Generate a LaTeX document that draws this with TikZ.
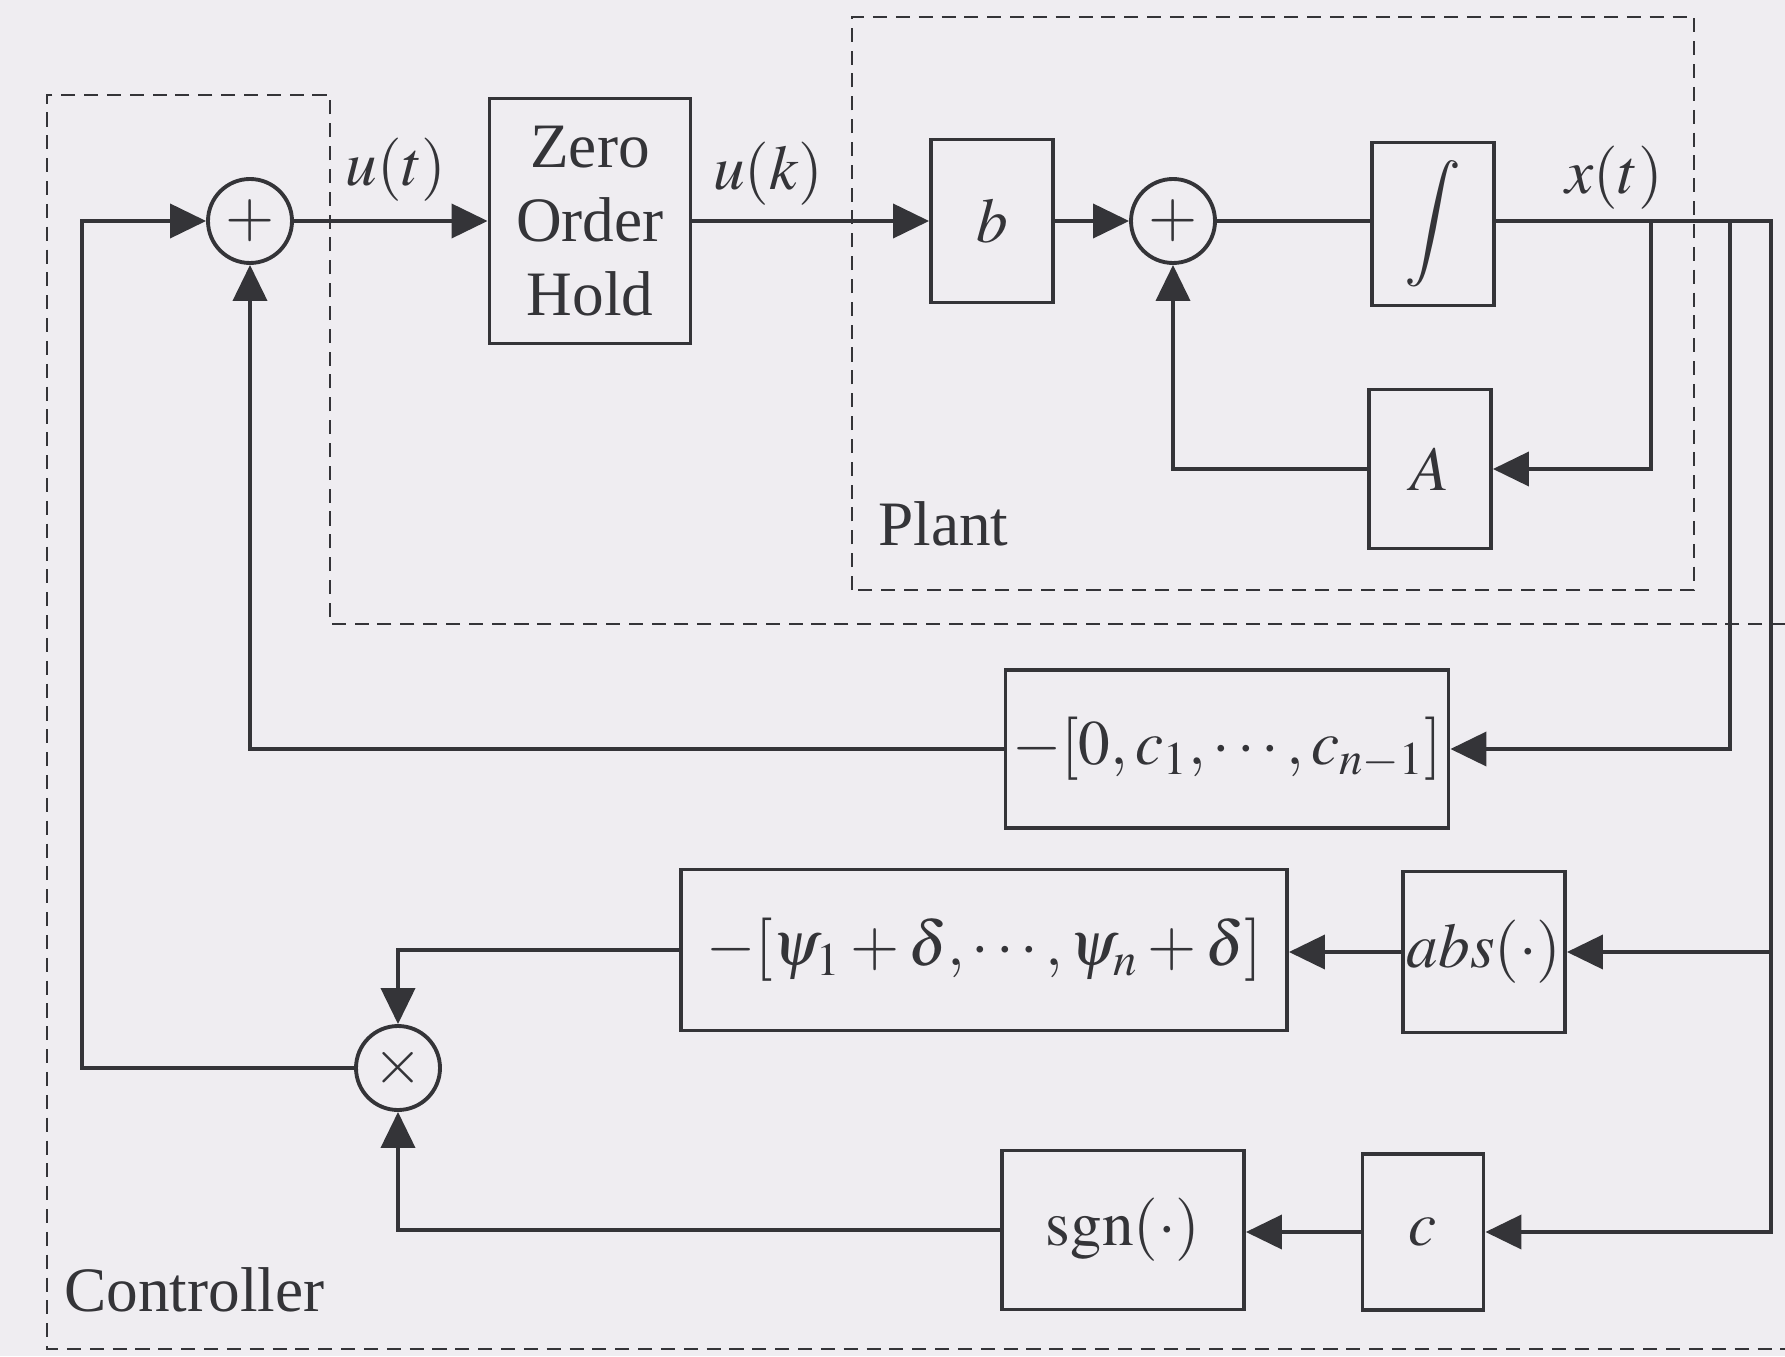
\documentclass[tikz,border=0pt]{standalone}
\usepackage{mathptmx}
\usepackage{fontspec}
\setmainfont{Liberation Serif}
\usetikzlibrary{arrows.meta}
\definecolor{paper}{RGB}{239,237,241}
\definecolor{ink}{RGB}{52,52,56}

\begin{document}
\begin{tikzpicture}[
    every node/.style={font=\fontsize{18}{21}\selectfont, text=ink},
    blk/.style={
      draw=ink, line width=1.1pt, inner sep=0pt, align=center
    },
    sumnode/.style={
      circle, draw=ink, line width=1.1pt, minimum size=0.84cm, inner sep=0pt
    },
    wire/.style={line width=1.1pt, ink},
    arr/.style={-{Triangle[length=3.6mm, width=3.4mm]}, line width=1.1pt, ink},
    frame/.style={draw=ink, line width=0.8pt, dash pattern=on 4pt off 2.5pt},
  ]
    \fill[paper] (0,0) rectangle (17.85,13.56);
    \useasboundingbox (0,0) rectangle (17.85,13.56);

    % dashed outlines
    \draw[frame] (8.52,7.66) rectangle (16.94,13.39);
    \draw[frame] (17.85,7.32) -- (3.30,7.32) -- (3.30,12.61) -- (0.47,12.61)
      -- (0.47,0.07) -- (17.85,0.07);
    \node[anchor=west] (plantlab) at (8.66,8.32) {Plant};
    \node[anchor=west] (ctrllab) at (0.52,0.66) {Controller};

    % top row
    \node[sumnode] (sumu) at (2.50,11.35) {$+$};
    \node[blk, minimum width=2.01cm, minimum height=2.45cm] (zoh) at (5.90,11.35)
      {Zero\\Order\\Hold};
    \node[blk, minimum width=1.22cm, minimum height=1.63cm] (gainb) at (9.92,11.35) {$b$};
    \node[sumnode] (sumx) at (11.73,11.35) {$+$};
    \node[blk, minimum width=1.22cm, minimum height=1.63cm] (integ) at (14.33,11.32)
      {$\displaystyle\int$};
    \node[blk, minimum width=1.22cm, minimum height=1.59cm] (gainA) at (14.30,8.87) {$A$};

    % controller blocks
    \node[blk, minimum width=4.43cm, minimum height=1.58cm] (gainK) at (12.27,6.07)
      {$-[0, c_1, \cdots, c_{n-1}]$};
    \node[blk, minimum width=6.06cm, minimum height=1.61cm] (psi) at (9.84,4.06)
      {$-[\psi_1+\delta, \cdots, \psi_n+\delta]$};
    \node[blk, minimum width=1.62cm, minimum height=1.61cm] (absf) at (14.84,4.04)
      {$abs(\cdot)$};
    \node[sumnode] (mult) at (3.98,2.88) {$\times$};
    \node[blk, minimum width=2.42cm, minimum height=1.59cm] (sgnf) at (11.23,1.26)
      {$\mathrm{sgn}(\cdot)$};
    \node[blk, minimum width=1.21cm, minimum height=1.56cm] (cgain) at (14.23,1.24) {$c$};

    % signal labels
    \node (ut) at (3.96,11.86) {$u(t)$};
    \node (uk) at (7.68,11.82) {$u(k)$};
    \node (xt) at (16.14,11.78) {$x(t)$};

    % branch points
    \coordinate (jA) at (16.51,11.35);
    \coordinate (jK) at (17.30,11.35);
    \coordinate (jout) at (17.71,11.35);
    \coordinate (jl) at (0.82,11.35);

    % forward path
    \draw[arr] (sumu.east) -- (zoh.west);
    \draw[arr] (zoh.east) -- (gainb.west);
    \draw[arr] (gainb.east) -- (sumx.west);
    \draw[wire] (sumx.east) -- (sumx.east -| integ.west);
    \draw[arr] (integ.east |- jA) -- (jout) |- (cgain.east);
    \draw[arr] (jA) |- (gainA.east);
    \draw[arr] (gainA.west) -| (sumx.south);

    % feedback
    \draw[arr] (jK) |- (gainK.east);
    \draw[arr] (gainK.west) -| (sumu.south);
    \draw[arr] (jout |- absf.east) -- (absf.east);
    \draw[arr] (absf.west) -- (absf.west -| psi.east);
    \draw[arr] (psi.west) -| (mult.north);
    \draw[arr] (cgain.west) -- (cgain.west -| sgnf.east);
    \draw[arr] (sgnf.west) -| (mult.south);
    \draw[arr] (mult.west) -| (jl) -- (sumu.west);
  \end{tikzpicture}
\end{document}
